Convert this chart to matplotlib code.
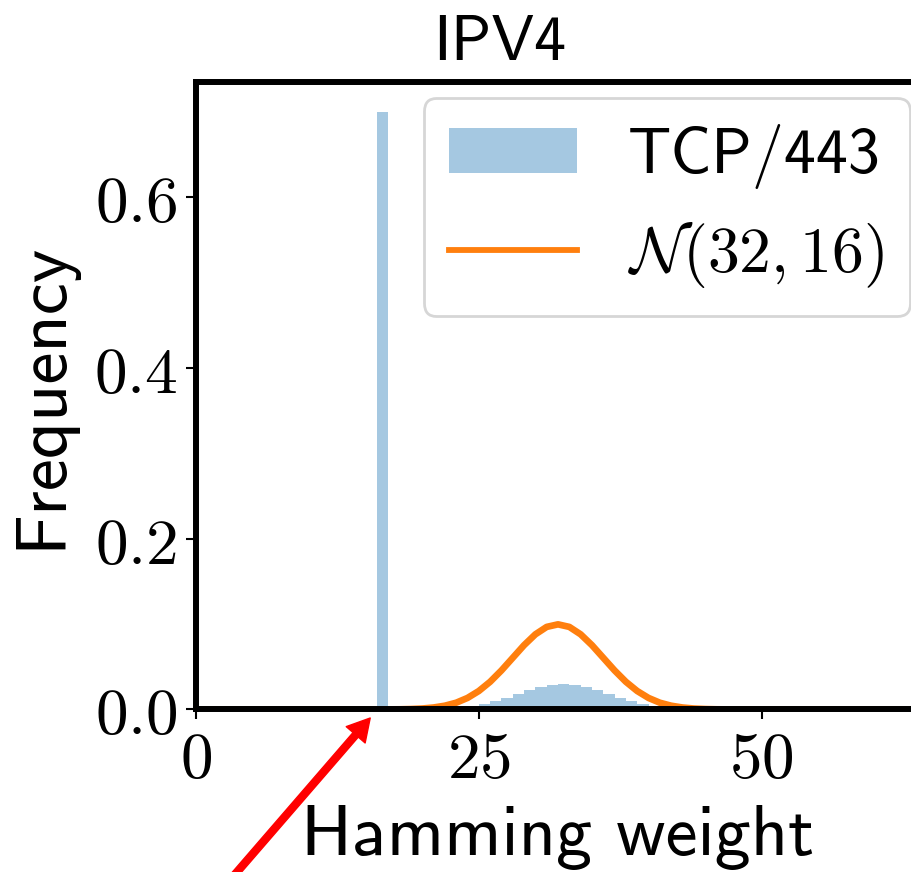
import os

import matplotlib
matplotlib.use('Agg')
import matplotlib.pyplot as plt
from matplotlib.font_manager import FontProperties

plt.rcParams['mathtext.fontset'] = 'cm'
cmss = os.path.join(matplotlib.get_data_path(), 'fonts', 'ttf', 'cmss10.ttf')

# histogram of hamming weights (bin left edge, frequency)
hist_x = [16, 25, 26, 27, 28, 29, 30, 31, 32, 33, 34, 35, 36, 37, 38, 39]
hist_y = [0.700, 0.0064, 0.010, 0.0135, 0.018, 0.0229, 0.0264, 0.0287, 0.0299,
          0.029, 0.0264, 0.0229, 0.018, 0.0135, 0.010, 0.0064]

# reference curve N(32, 16)
curve_x = [0, 16, 17, 18, 19, 20, 21, 22, 23, 24, 25, 26, 27, 28, 29, 30, 31, 32,
           33, 34, 35, 36, 37, 38, 39, 40, 41, 42, 43, 44, 45, 46, 47, 48, 64]
curve_y = [0.0, 0.0, 0.0001, 0.0002, 0.0005, 0.0011, 0.0023, 0.0044, 0.0079, 0.0135,
           0.0216, 0.0324, 0.0457, 0.0605, 0.0753, 0.0880, 0.0967, 0.0997,
           0.0967, 0.0880, 0.0753, 0.0605, 0.0457, 0.0324, 0.0216, 0.0135,
           0.0079, 0.0044, 0.0023, 0.0011, 0.0005, 0.0002, 0.0001, 0.0, 0.0]

xticks = [0, 25, 50]
yticks = [0.0, 0.2, 0.4, 0.6]

fig = plt.figure(figsize=(9.12, 8.72), dpi=100)
ax = fig.add_axes([0.2149, 0.1864, 0.7939, 0.7196])

bars = ax.bar(hist_x, hist_y, width=1, align='edge', color='tab:blue', alpha=0.4,
              linewidth=0)
line, = ax.plot(curve_x, curve_y, color='tab:orange', lw=4.8)

ax.set_xlim(0, 64)
ax.set_ylim(0, 0.735)
ax.set_xticks(xticks, labels=['$%d$' % t for t in xticks])
ax.set_yticks(yticks, labels=['$%.1f$' % t for t in yticks])
ax.tick_params(labelsize=47, length=7.5, width=1.5, pad=6)

for s in ax.spines.values():
    s.set_linewidth(4.3)

ax.set_xlabel('Hamming weight', fontproperties=FontProperties(fname=cmss, size=52),
              labelpad=9)
ax.set_ylabel('Frequency', fontproperties=FontProperties(fname=cmss, size=52),
              labelpad=13)
ax.set_title('IPV4', fontproperties=FontProperties(fname=cmss, size=46), x=0.42, pad=16)

leg = ax.legend([bars, line], ['TCP/443', r'$\mathcal{N}(32, 16)$'],
                prop=FontProperties(fname=cmss, size=46), loc='upper right',
                borderaxespad=0, labelspacing=0.5,
                bbox_to_anchor=(910 / 912, (872 - 98) / 872),
                bbox_transform=fig.transFigure)
leg.get_frame().set_linewidth(2)
leg.get_lines()[0].set_linewidth(4.2)

ax.annotate('', xy=(15.4, -0.01), xytext=(1.5, -0.223),
            xycoords='data', textcoords='data', annotation_clip=False,
            arrowprops=dict(facecolor='red', edgecolor='red', width=5,
                            headwidth=18, headlength=16, shrink=0))

fig.savefig('out.png', dpi=100)
